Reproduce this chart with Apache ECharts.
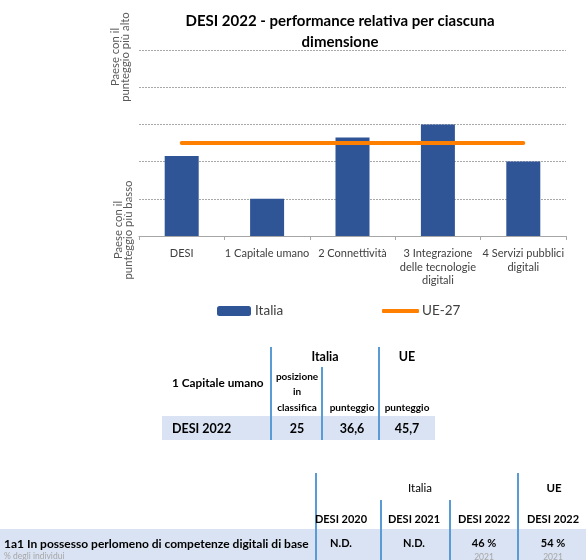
<!DOCTYPE html>
<html><head><meta charset="utf-8">
<script src="https://cdn.jsdelivr.net/npm/echarts@6/dist/echarts.min.js"></script>
<style>html,body{margin:0;padding:0;background:#fff}#c{width:586px;height:560px}</style>
</head><body><div id="c"></div>
<script>
// ---- chart data ----
const categories = ['DESI', '1 Capitale umano', '2 Connettività', '3 Integrazione\ndelle tecnologie\ndigitali', '4 Servizi pubblici\ndigitali'];
const italia = [2.15, 1.0, 2.65, 3.0, 2.0];
const ue27 = [2.5, 2.5, 2.5, 2.5, 2.5];
const yTopLabel = 'Paese con il\npunteggio più alto';
const yBottomLabel = 'Paese con il\npunteggio più basso';

// ---- table 1 ----
const t1Title = '1 Capitale umano';
const t1GroupHeads = ['Italia', 'UE'];
const t1ColHeads = ['posizione\nin\nclassifica', 'punteggio', 'punteggio'];
const t1RowLabel = 'DESI 2022';
const t1Values = ['25', '36,6', '45,7'];

// ---- table 2 ----
const t2GroupHeads = ['Italia', 'UE'];
const t2ColHeads = ['DESI 2020', 'DESI 2021', 'DESI 2022', 'DESI 2022'];
const t2RowLabel = '1a1 In possesso perlomeno di competenze digitali di base';
const t2RowSub = '% degli individui';
const t2Values = ['N.D.', 'N.D.', '46 %', '54 %'];
const t2Years = ['', '', '2021', '2021'];

const FF = 'Lato, sans-serif';
const BLUE_LINE = '#5b9bd5';
const BAND = '#dae3f3';

function txt(x, y, s, size, weight, color, align, extra) {
  return {
    type: 'text', x: x, y: y, z: 10,
    style: Object.assign({
      text: s, fontFamily: FF, fontSize: size, fontWeight: weight || 'normal',
      fill: color || '#000', textAlign: align || 'center', textVerticalAlign: 'middle'
    }, extra || {})
  };
}
function rect(x, y, w, h, color, z) {
  return { type: 'rect', z: z || 5, shape: { x: x, y: y, width: w, height: h }, style: { fill: color } };
}

const g = [];
// rotated y labels
g.push(Object.assign(txt(120, 57, yTopLabel, 11.3, 'normal', '#595959', 'center', { lineHeight: 10 }), { rotation: Math.PI / 2 }));
g.push(Object.assign(txt(123, 230, yBottomLabel, 11.3, 'normal', '#595959', 'center', { lineHeight: 10 }), { rotation: Math.PI / 2 }));

// table 1
g.push(rect(162, 416, 273, 24, BAND, 4));
g.push(rect(270, 347, 2, 93, BLUE_LINE));
g.push(rect(321, 367, 2, 73, BLUE_LINE));
g.push(rect(378, 347, 2, 93, BLUE_LINE));
g.push(txt(325, 357, t1GroupHeads[0], 12.5, 'bold'));
g.push(txt(407, 357, t1GroupHeads[1], 12.5, 'bold'));
g.push(txt(172, 383, t1Title, 11.8, 'bold', '#000', 'left'));
const t1ColX = [297, 352, 407];
g.push(txt(t1ColX[0], 392, t1ColHeads[0], 10, 'bold', '#000', 'center', { lineHeight: 15.5 }));
g.push(txt(t1ColX[1], 408, t1ColHeads[1], 10, 'bold'));
g.push(txt(t1ColX[2], 408, t1ColHeads[2], 10, 'bold'));
g.push(txt(172, 429, t1RowLabel, 12.5, 'bold', '#000', 'left'));
t1Values.forEach((v, i) => g.push(txt(t1ColX[i], 429, v, 12.5, 'bold')));

// table 2
g.push(rect(0, 529, 586, 31, BAND, 4));
g.push(rect(315, 473, 2, 87, BLUE_LINE));
g.push(rect(380, 500, 2, 60, BLUE_LINE));
g.push(rect(449, 500, 2, 60, BLUE_LINE));
g.push(rect(517, 473, 2, 87, BLUE_LINE));
g.push(txt(420, 488, t2GroupHeads[0], 11.5, 'normal'));
g.push(txt(554, 488, t2GroupHeads[1], 11.5, 'bold'));
const t2ColX = [341, 414, 484, 553];
t2ColHeads.forEach((h, i) => g.push(txt(t2ColX[i], 519, h, 11, 'bold')));
g.push(txt(4, 544, t2RowLabel, 12, 'bold', '#000', 'left'));
g.push(txt(4, 556, t2RowSub, 8.5, 'normal', '#a6a6a6', 'left'));
t2Values.forEach((v, i) => g.push(txt(t2ColX[i], 543, v, 11, 'bold')));
t2Years.forEach((v, i) => { if (v) g.push(txt(t2ColX[i], 557, v, 8.5, 'normal', '#a6a6a6')); });

const chart = echarts.init(document.getElementById('c'));
chart.setOption({
  animation: false,
  backgroundColor: '#fff',
  title: {
    text: 'DESI 2022 - performance relativa per ciascuna\ndimensione',
    left: 335, top: 6, textAlign: 'center',
    textStyle: { fontFamily: FF, fontWeight: 'bold', fontSize: 15, lineHeight: 21, color: '#000' }
  },
  legend: [
    { data: ['Italia'], left: 217, top: 304, padding: 0, itemWidth: 34, itemHeight: 10, itemGap: 0,
      textStyle: { fontFamily: FF, fontSize: 13.5, color: '#404040', padding: [0, 0, 0, -1] } },
    { data: [{ name: 'UE-27', icon: 'roundRect' }], left: 382, top: 304, padding: 0, itemWidth: 37, itemHeight: 4, itemGap: 0,
      textStyle: { fontFamily: FF, fontSize: 13.5, color: '#404040', padding: [0, 0, 0, -2] } }
  ],
  grid: { left: 139, right: 20, top: 50, bottom: 324, containLabel: false },
  xAxis: {
    type: 'category', data: categories,
    axisLine: { lineStyle: { color: '#a6a6a6' } },
    axisTick: { show: true, length: 4, lineStyle: { color: '#a6a6a6' } },
    axisLabel: { interval: 0, fontFamily: FF, fontSize: 11, color: '#404040', lineHeight: 13.5, margin: 11 }
  },
  yAxis: {
    type: 'value', min: 0, max: 5, interval: 1,
    axisLabel: { show: false }, axisLine: { show: false }, axisTick: { show: false },
    splitLine: { lineStyle: { type: [2, 1], color: '#a8a8a8', width: 1 } }
  },
  series: [
    { name: 'Italia', type: 'bar', data: italia, barWidth: 34,
      itemStyle: { color: '#2f5597' } },
    { name: 'UE-27', type: 'line', data: ue27, symbol: 'none', z: 5,
      lineStyle: { color: '#ff7f00', width: 4, cap: 'round' }, itemStyle: { color: '#ff7f00' } }
  ],
  graphic: g
});
</script></body></html>
